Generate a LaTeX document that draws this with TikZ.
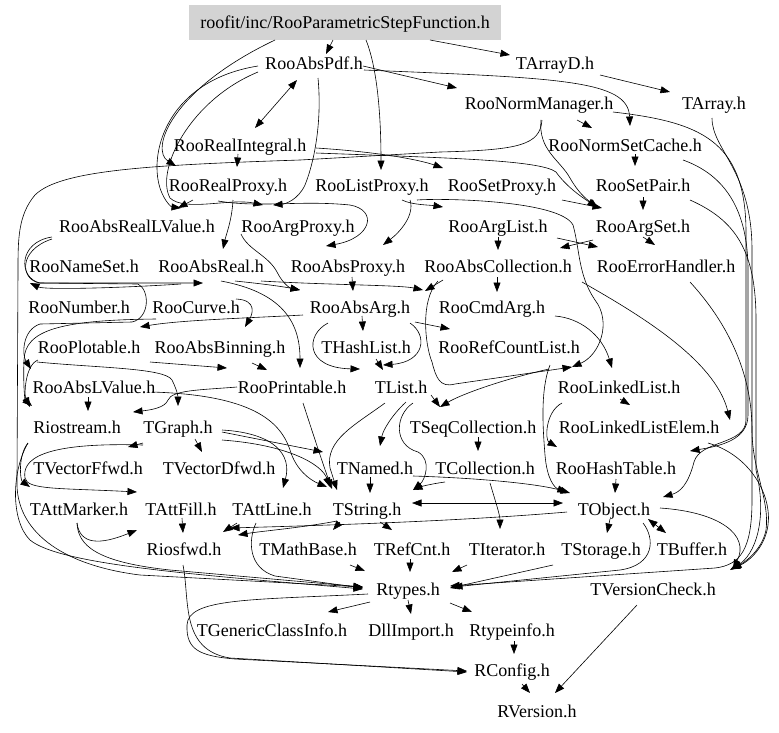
\documentclass[tikz,border=0pt]{standalone}
\usepackage{fontspec}
\setmainfont{Liberation Serif}
\usetikzlibrary{arrows.meta,calc}
\definecolor{boxgray}{RGB}{211,211,211}
\tikzset{
  arr/.style={-{Triangle[length=9.5pt,width=7pt]},line width=0.6pt},
  darr/.style={{Triangle[length=9.5pt,width=7pt]}-{Triangle[length=9.5pt,width=7pt]},line width=0.6pt},
  lbl/.style={inner sep=0pt,text height=12pt,text depth=0pt,font=\fontsize{18}{21}\selectfont},
  rootbox/.style={lbl,fill=boxgray,minimum width=312pt,minimum height=35pt}
}
\begin{document}
\begin{tikzpicture}[x=1pt,y=-1pt]
\useasboundingbox[fill=white] (0,0) rectangle (779,732);
\node[rootbox] (root) at (345,22) {roofit/inc/RooParametricStepFunction.h};
\node[lbl] (pdf) at (314,63) {RooAbsPdf.h};
\node[lbl] (tarrd) at (555,63) {TArrayD.h};
\node[lbl] (nman) at (539,103) {RooNormManager.h};
\node[lbl] (tarr) at (714,103) {TArray.h};
\node[lbl] (rint) at (240,145) {RooRealIntegral.h};
\node[lbl] (nsc) at (625,145) {RooNormSetCache.h};
\node[lbl] (rrp) at (228,185) {RooRealProxy.h};
\node[lbl] (rlp) at (372,185) {RooListProxy.h};
\node[lbl] (rsp) at (502,185) {RooSetProxy.h};
\node[lbl] (spair) at (643,185) {RooSetPair.h};
\node[lbl] (arlv) at (137,226) {RooAbsRealLValue.h};
\node[lbl] (argp) at (298,226) {RooArgProxy.h};
\node[lbl] (alist) at (498,226) {RooArgList.h};
\node[lbl] (aset) at (643,226) {RooArgSet.h};
\node[lbl] (nset) at (84,266) {RooNameSet.h};
\node[lbl] (areal) at (211,266) {RooAbsReal.h};
\node[lbl] (aprox) at (348,266) {RooAbsProxy.h};
\node[lbl] (acoll) at (498,266) {RooAbsCollection.h};
\node[lbl] (err) at (666,266) {RooErrorHandler.h};
\node[lbl] (num) at (79,307) {RooNumber.h};
\node[lbl] (curve) at (196,307) {RooCurve.h};
\node[lbl] (aarg) at (360,307) {RooAbsArg.h};
\node[lbl] (cmd) at (492,307) {RooCmdArg.h};
\node[lbl] (plotb) at (89,347) {RooPlotable.h};
\node[lbl] (abin) at (220,347) {RooAbsBinning.h};
\node[lbl] (hlist) at (366,347) {THashList.h};
\node[lbl] (rcl) at (509,347) {RooRefCountList.h};
\node[lbl] (alv) at (94,387) {RooAbsLValue.h};
\node[lbl] (prnt) at (292,387) {RooPrintable.h};
\node[lbl] (tlist) at (401,387) {TList.h};
\node[lbl] (rll) at (619,387) {RooLinkedList.h};
\node[lbl] (rio) at (77,427) {Riostream.h};
\node[lbl] (tgraph) at (178,427) {TGraph.h};
\node[lbl] (seq) at (473,427) {TSeqCollection.h};
\node[lbl] (rlle) at (639,427) {RooLinkedListElem.h};
\node[lbl] (vff) at (88,468) {TVectorFfwd.h};
\node[lbl] (vdf) at (219,468) {TVectorDfwd.h};
\node[lbl] (named) at (375,468) {TNamed.h};
\node[lbl] (coll) at (485,468) {TCollection.h};
\node[lbl] (htab) at (616,468) {RooHashTable.h};
\node[lbl] (amark) at (79,509) {TAttMarker.h};
\node[lbl] (afill) at (181,509) {TAttFill.h};
\node[lbl] (aline) at (272,509) {TAttLine.h};
\node[lbl] (str) at (367,509) {TString.h};
\node[lbl] (obj) at (614,509) {TObject.h};
\node[lbl] (rfwd) at (184,549) {Riosfwd.h};
\node[lbl] (mbase) at (308,549) {TMathBase.h};
\node[lbl] (rcnt) at (412,549) {TRefCnt.h};
\node[lbl] (titer) at (507,549) {TIterator.h};
\node[lbl] (stor) at (601,549) {TStorage.h};
\node[lbl] (buf) at (692,549) {TBuffer.h};
\node[lbl] (rtyp) at (408,589) {Rtypes.h};
\node[lbl] (vchk) at (653,589) {TVersionCheck.h};
\node[lbl] (gci) at (272,630) {TGenericClassInfo.h};
\node[lbl] (dll) at (411,630) {DllImport.h};
\node[lbl] (rti) at (512,630) {Rtypeinfo.h};
\node[lbl] (rcfg) at (512,670) {RConfig.h};
\node[lbl] (rver) at (537,711) {RVersion.h};

% top
\draw[arr] ($(root)+(-12,18)$) -- ($(pdf)+(12,-9)$);
\draw[arr] ($(root)+(85,18)$) -- ($(tarrd)+(-45,-8)$);
\draw[arr] ($(root)+(21,18)$) .. controls (378,70) and (381,120) .. ($(rlp)+(9,-15)$);
\draw[arr] ($(root)+(-70,18)$) .. controls (170,90) and (150,150) .. ($(rrp)+(-52,-19)$);
\draw[darr] ($(pdf)+(-17,17)$) -- ($(rint)+(15,-17)$);
\draw[arr] ($(pdf)+(49,3)$) -- ($(nman)+(-82,-15)$);
\draw[arr] ($(pdf)+(50,7)$) .. controls (560,78) and (628,80) .. ($(nsc)+(5,-19)$);
\draw[arr] ($(tarrd)+(45,12)$) -- ($(tarr)+(-44,-11)$);
\draw[arr] ($(nman)+(38,17)$) -- ($(nsc)+(-33,-17)$);

% right bundle
\draw[arr] ($(tarr)+(-2,15)$) .. controls (712,150) and (752,170) .. (752,250) -- (752,500) .. controls (752,550) and (740,565) .. (715,568) -- ($(rtyp)+(42,-3)$);
\draw[arr] ($(nman)+(74,9)$) .. controls (700,122) and (745,140) .. (746,230) -- (746,420) .. controls (746,445) and (700,440) .. (694,462) .. controls (688,485) and (680,492) .. ($(obj)+(49,-12)$);
\draw[arr] ($(nsc)+(58,15)$) .. controls (725,175) and (748,210) .. (748,270) -- (748,415) .. controls (748,440) and (720,446) .. ($(htab)+(74,-17)$);
\draw[arr] ($(spair)+(47,15)$) .. controls (735,220) and (756,250) .. (756,320) -- (756,470) .. controls (768,520) and (755,555) .. ($(vchk)+(77,-19)$);
\draw[arr] ($(err)+(24,16)$) .. controls (725,320) and (752,370) .. (752,430) .. controls (752,470) and (770,500) .. (766,530) .. controls (762,550) and (745,562) .. ($(vchk)+(79,-20)$);
\draw[arr] ($(acoll)+(84,16)$) .. controls (640,315) and (715,360) .. ($(rlle)+(91,-7)$);
\draw[arr] ($(rlle)+(69,16)$) .. controls (750,455) and (772,495) .. (768,525) .. controls (765,548) and (748,562) .. ($(vchk)+(78,-20)$);
\draw[arr] ($(obj)+(46,-1)$) .. controls (720,512) and (750,535) .. ($(vchk)+(80,-20)$);

% rows 145-226
\draw[arr] ($(rint)+(-2,9)$) -- ($(rrp)+(9,-18)$);
\draw[arr] ($(rint)+(76,3)$) .. controls (380,152) and (420,160) .. ($(rsp)+(-59,-17)$);
\draw[arr] ($(rint)+(76,8)$) .. controls (450,158) and (540,160) .. (556,172) .. controls (566,186) and (580,196) .. ($(aset)+(-46,-19)$);
\draw[arr] ($(nman)+(2,17)$) .. controls (538,150) and (560,160) .. (570,178) .. controls (578,192) and (585,198) .. ($(aset)+(-45,-18)$);
\draw[arr] ($(pdf)+(4,15)$) .. controls (322,120) and (315,160) .. (305,185) .. controls (298,200) and (285,204) .. ($(argp)+(-25,-21)$);
\draw[arr] ($(pdf)+(-56,3)$) .. controls (170,80) and (148,150) .. (160,188) .. controls (165,203) and (172,207) .. ($(arlv)+(44,-18)$);
\draw[arr] ($(pdf)+(-56,9)$) .. controls (190,100) and (155,170) .. (170,198) .. controls (185,212) and (230,198) .. ($(argp)+(-35,-21)$);
\draw[arr] ($(rrp)+(-35,15)$) -- ($(arlv)+(41,-18)$);
\draw[arr] ($(rrp)+(5,15)$) .. controls (232,220) and (226,235) .. ($(areal)+(12,-17)$);
\draw[arr] ($(rrp)+(-10,16)$) .. controls (260,208) and (300,200) .. (350,205) .. controls (378,210) and (372,238) .. ($(aprox)+(-22,-20)$);
\draw[arr] ($(argp)+(-57,8)$) .. controls (248,250) and (268,255) .. (277,272) .. controls (283,284) and (290,288) .. ($(aarg)+(-60,-17)$);
\draw[arr] ($(rlp)+(30,15)$) .. controls (412,205) and (430,205) .. ($(alist)+(-55,-19)$);
\draw[arr] ($(rlp)+(38,15)$) .. controls (415,215) and (400,232) .. ($(aprox)+(35,-21)$);
\draw[arr] ($(rsp)+(60,15)$) -- ($(aset)+(-41,-18)$);
\draw[arr] ($(rlp)+(45,15)$) .. controls (440,198) and (560,200) .. (573,225) .. controls (580,250) and (578,275) .. (595,300) .. controls (612,322) and (600,355) .. ($(rll)+(-47,-20)$);
\draw[arr] ($(spair)+(0,12)$) -- ($(aset)+(0,-16)$);
\draw[arr] ($(nsc)+(10,9)$) -- ($(spair)+(-8,-19)$);
\draw[arr] ($(alist)+(0,11)$) -- ($(acoll)+(0,-16)$);
\draw[arr] ($(aset)+(0,11)$) -- ($(err)+(-11,-21)$);
\draw[arr] ($(alist)+(59,12)$) -- ($(err)+(-68,-19)$);
\draw[arr] ($(aset)+(-50,14)$) -- ($(acoll)+(62,-18)$);

% long left line
\draw[arr] ($(nman)+(3,17)$) .. controls (540,145) and (520,150) .. (440,152) -- (300,160) .. controls (150,165) and (60,170) .. (35,195) .. controls (18,215) and (18,240) .. (18,270) -- (17,480) .. controls (15,530) and (60,565) .. (140,575) -- ($(rtyp)+(-45,-2)$);

% rows 266-307
\draw[arr] ($(arlv)+(-85,11)$) .. controls (18,242) and (18,278) .. (40,283) -- ($(areal)+(-8,17)$);
\draw[arr] ($(areal)+(-30,18)$) .. controls (120,288) and (45,290) .. ($(nset)+(-54,17)$);
\draw[arr] ($(areal)+(24,15)$) .. controls (265,284) and (285,287) .. ($(aarg)+(-60,-17)$);
\draw[arr] ($(areal)+(50,15)$) .. controls (330,285) and (400,285) .. ($(aarg)+(63,-17)$);
\draw[arr] ($(aprox)+(4,11)$) -- ($(aarg)+(-7,-16)$);
\draw[arr] ($(acoll)+(-1,11)$) -- ($(cmd)+(5,-15)$);
\draw[arr] ($(acoll)+(-55,14)$) -- ($(aarg)+(65,-16)$);
\draw[arr] ($(acoll)+(-60,15)$) .. controls (420,300) and (425,345) .. (432,362) .. controls (436,378) and (440,388) .. (455,384) -- ($(rll)+(-47,-20)$);
\draw[arr] ($(areal)+(10,15)$) .. controls (280,292) and (300,320) .. ($(prnt)+(8,-19)$);

% rows 307-347
\draw[arr] ($(aarg)+(2,9)$) -- ($(hlist)+(-3,-16)$);
\draw[arr] ($(aarg)+(55,15)$) -- ($(rcl)+(-59,-18)$);
\draw[arr] ($(aarg)+(-57,8)$) .. controls (250,318) and (180,320) .. ($(plotb)+(51,-20)$);
\draw[arr] ($(curve)+(40,-8)$) .. controls (258,300) and (252,315) .. ($(abin)+(25,-20)$);
\draw[arr] ($(abin)+(32,16)$) -- ($(prnt)+(-25,-17)$);
\draw[arr] ($(aarg)+(-32,16)$) .. controls (305,335) and (305,368) .. ($(tlist)+(-41,-18)$);
\draw[arr] ($(aarg)+(50,16)$) .. controls (428,335) and (425,362) .. ($(hlist)+(17,18)$);
\draw[arr] ($(hlist)+(10,12)$) -- ($(tlist)+(-18,-17)$);
\draw[arr] ($(cmd)+(63,9)$) .. controls (580,318) and (602,335) .. ($(rll)+(-7,-19)$);
\draw[arr] ($(rcl)+(41,18)$) .. controls (540,390) and (543,430) .. (545,455) .. controls (547,480) and (555,488) .. ($(obj)+(-47,-17)$);
\draw[arr] ($(rcl)+(40,22)$) .. controls (500,380) and (460,395) .. ($(seq)+(-33,-20)$);
\draw[arr] ($(rll)+(1,12)$) -- ($(rlle)+(-9,-22)$);
\draw[arr] ($(rll)+(-57,16)$) .. controls (545,412) and (545,440) .. ($(htab)+(-59,-21)$);
\draw[arr] ($(htab)+(0,11)$) -- ($(obj)+(1,-16)$);
\draw[arr] ($(tlist)+(30,8)$) -- ($(seq)+(-33,-20)$);
\draw[arr] ($(tlist)+(5,15)$) .. controls (392,415) and (383,430) .. ($(named)+(5,-22)$);
\draw[arr] ($(seq)+(5,10)$) -- ($(coll)+(-7,-17)$);
\draw[arr] ($(tlist)+(-16,16)$) .. controls (355,425) and (325,440) .. (330,468) -- ($(str)+(-30,-19)$);
\draw[arr] ($(tlist)+(12,16)$) .. controls (395,415) and (393,445) .. (418,452) .. controls (432,460) and (425,480) .. ($(str)+(46,-19)$);

% left rows 347-427
\draw[arr] ($(arlv)+(-85,13)$) .. controls (18,250) and (20,280) .. (40,283) -- (138,284) .. controls (150,290) and (150,318) .. (132,322) -- (40,324) .. controls (22,330) and (22,355) .. ($(alv)+(-63,-18)$);
\draw[arr] ($(plotb)+(-51,13)$) .. controls (25,365) and (24,395) .. ($(rio)+(-47,-20)$);
\draw[arr] ($(curve)+(-40,12)$) .. controls (60,320) and (25,330) .. (24,360) .. controls (23,385) and (25,400) .. ($(rio)+(-45,-21)$);
\draw[arr] ($(plotb)+(61,15)$) -- ($(prnt)+(-65,-19)$);
\draw[arr] ($(plotb)+(-52,15)$) .. controls (100,368) and (165,368) .. (172,380) .. controls (178,392) and (178,398) .. ($(tgraph)+(0,-21)$);
\draw[arr] ($(prnt)+(-55,0)$) .. controls (200,390) and (172,390) .. (168,400) .. controls (165,408) and (150,410) .. ($(rio)+(56,-15)$);
\draw[arr] ($(alv)+(-6,10)$) -- ($(rio)+(11,-16)$);
\draw[arr] ($(alv)+(58,5)$) .. controls (250,395) and (280,420) .. (290,450) .. controls (296,470) and (310,480) .. ($(str)+(-40,-22)$);

% rows 427-509
\draw[arr] ($(tgraph)+(-35,16)$) -- ($(vff)+(40,-21)$);
\draw[arr] ($(tgraph)+(17,12)$) -- ($(vdf)+(-17,-16)$);
\draw[arr] ($(tgraph)+(44,5)$) -- ($(named)+(-52,-16)$);
\draw[arr] ($(tgraph)+(44,13)$) .. controls (290,445) and (322,465) .. ($(str)+(-37,-22)$);
\draw[arr] ($(tgraph)+(44,3)$) .. controls (275,433) and (292,455) .. ($(aline)+(11,-21)$);
\draw[arr] ($(prnt)+(11,16)$) .. controls (315,440) and (325,470) .. ($(str)+(-35,-20)$);
\draw[arr] ($(tgraph)+(-35,18)$) .. controls (40,442) and (22,460) .. (25,478) .. controls (27,490) and (60,488) .. ($(afill)+(-44,-17)$);
\draw[arr] ($(rio)+(-49,16)$) .. controls (18,455) and (20,480) .. ($(amark)+(-49,-22)$);
\draw[arr] ($(rio)+(-49,16)$) .. controls (12,470) and (10,520) .. (30,540) .. controls (60,565) and (200,575) .. ($(rtyp)+(-45,0)$);
\draw[arr] ($(amark)+(-2,14)$) .. controls (78,545) and (95,562) .. (170,570) -- ($(rtyp)+(-45,-2)$);
\draw[arr] ($(amark)+(-2,14)$) .. controls (80,545) and (100,545) .. ($(rfwd)+(-47,-19)$);
\draw[arr] ($(afill)+(1,9)$) -- ($(rfwd)+(-1,-16)$);
\draw[arr] ($(aline)+(-35,14)$) -- ($(rfwd)+(39,-17)$);
\draw[arr] ($(aline)+(-16,14)$) .. controls (248,540) and (248,568) .. (275,576) -- ($(rtyp)+(-45,-1)$);
\draw[arr] ($(named)+(-5,9)$) -- ($(str)+(3,-16)$);
\draw[arr] ($(named)+(38,8)$) .. controls (480,478) and (540,484) .. ($(obj)+(-44,-16)$);
\draw[arr] ($(coll)+(-40,14)$) .. controls (430,484) and (420,487) .. ($(str)+(46,-19)$);
\draw[arr] ($(coll)+(5,15)$) .. controls (495,500) and (500,515) .. ($(titer)+(-7,-20)$);
\draw[darr] ($(str)+(45,-6)$) -- ($(obj)+(-51,-6)$);
\draw[arr] ($(obj)+(-47,3)$) .. controls (450,522) and (300,526) .. ($(rfwd)+(46,-21)$);
\draw[arr] ($(str)+(-30,12)$) .. controls (300,528) and (262,531) .. ($(rfwd)+(54,-14)$);
\draw[arr] ($(str)+(-27,13)$) -- ($(mbase)+(25,-19)$);
\draw[arr] ($(str)+(13,13)$) -- ($(rcnt)+(-20,-19)$);
\draw[arr] ($(obj)+(-4,10)$) -- ($(stor)+(6,-16)$);
\draw[darr] ($(obj)+(34,10)$) -- ($(buf)+(-26,-16)$);
\draw[arr] ($(obj)+(29,14)$) .. controls (655,538) and (655,565) .. (620,570) -- ($(rtyp)+(45,-2)$);

% bottom
\draw[arr] ($(stor)+(-48,16)$) -- ($(rtyp)+(42,-1)$);
\draw[arr] ($(titer)+(-40,16)$) -- ($(rtyp)+(44,-17)$);
\draw[arr] ($(rcnt)+(-2,10)$) -- ($(rtyp)+(2,-17)$);
\draw[arr] ($(mbase)+(42,16)$) -- ($(rtyp)+(-43,-18)$);
\draw[arr] ($(rtyp)+(-38,13)$) -- ($(gci)+(56,-18)$);
\draw[arr] ($(rtyp)+(0,11)$) -- ($(dll)+(0,-16)$);
\draw[arr] ($(rtyp)+(42,14)$) -- ($(rti)+(-40,-18)$);
\draw[arr] ($(rti)+(2,11)$) -- ($(rcfg)+(2,-16)$);
\draw[arr] ($(rfwd)+(-1,16)$) .. controls (190,600) and (180,650) .. (230,658) -- ($(rcfg)+(-45,2)$);
\draw[arr] ($(rtyp)+(-40,5)$) .. controls (250,600) and (188,598) .. (187,625) .. controls (186,650) and (200,656) .. (235,659) -- ($(rcfg)+(-45,1)$);
\draw[arr] ($(rcfg)+(10,14)$) -- ($(rver)+(-7,-18)$);
\draw[arr] ($(vchk)+(-16,16)$) -- ($(rver)+(18,-18)$);
\end{tikzpicture}
\end{document}
